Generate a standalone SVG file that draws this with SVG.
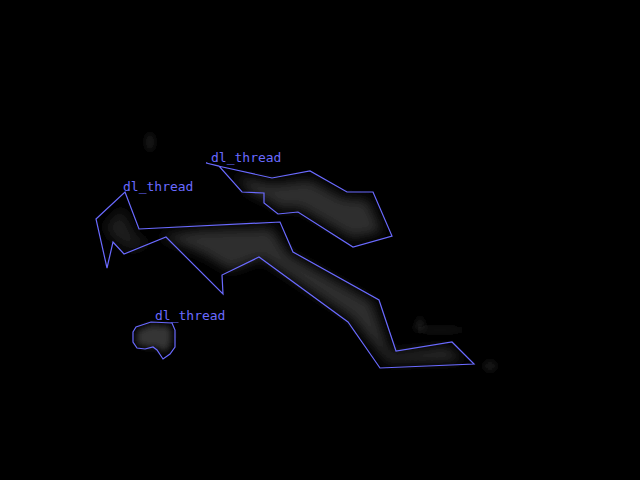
<svg xmlns="http://www.w3.org/2000/svg" width="640" height="480" viewBox="0 0 640 480">
<defs>
<filter id="blur" x="-20%" y="-20%" width="140%" height="140%"><feGaussianBlur stdDeviation="6"/></filter>
<filter id="blur2" x="-50%" y="-50%" width="200%" height="200%"><feGaussianBlur stdDeviation="3"/></filter>
</defs>
<style>
.poly{fill:none;stroke:#6a6aff;stroke-width:1.2;stroke-linejoin:miter}
.lbl{font-family:"DejaVu Sans Mono",monospace;font-size:13px;fill:#6a6aff}
.shade{fill:#2f2f2f;filter:url(#blur)}
.dim{fill:#1c1c1c;filter:url(#blur)}
</style>
<rect x="0" y="0" width="640" height="480" fill="#000"/>
<g id="scene-shading">
<polygon class="shade" points="236,176 272,184 310,180 343,198 368,200 382,232 352,238 300,208 278,208 268,200 252,194"/>
<polygon class="dim" points="104,226 122,208 136,236 150,244 130,250 112,238"/>
<polygon class="shade" points="160,236 200,230 272,228 288,254 372,302 390,354 448,348 462,360 388,362 352,318 262,258 230,270 205,255 180,244"/>
<polygon fill="#343434" filter="url(#blur2)" points="137,331 150,325 169,326 172,334 170,347 164,352 157,347 146,347 137,344"/>
<ellipse cx="150" cy="142" rx="4" ry="9" fill="#1e1e1e" filter="url(#blur2)"/>
<polygon points="414,330 420,316 426,330" fill="#222" filter="url(#blur2)"/>
<ellipse cx="440" cy="330" rx="25" ry="3" fill="#121212" filter="url(#blur2)"/>
<ellipse cx="490" cy="366" rx="6" ry="5" fill="#1a1a1a" filter="url(#blur2)"/>
</g>
<g id="node-thread-1">
<polygon class="poly" points="206,163 218,166 272,178 310,171 347,192 373,192 392,236 353,247 298,212 278,214 264,203 264,193 242,192 219,166"/>
<text class="lbl" x="211" y="162">dl_thread</text>
</g>
<g id="node-thread-2">
<polygon class="poly" points="125,192 139,229 280,222 293,252 379,300 396,351 452,342 474,364 380,368 348,322 259,257 222,275 223,294 166,237 124,254 113,242 107,268 96,219"/>
<text class="lbl" x="123" y="191">dl_thread</text>
</g>
<g id="node-thread-3">
<polygon class="poly" points="133,332 136,327 151,322 172,323 175,330 175,347 170,354 163,359 157,350 153,347 145,349 137,348 133,342"/>
<text class="lbl" x="155" y="320">dl_thread</text>
</g>
<g id="connectors"/>
</svg>
